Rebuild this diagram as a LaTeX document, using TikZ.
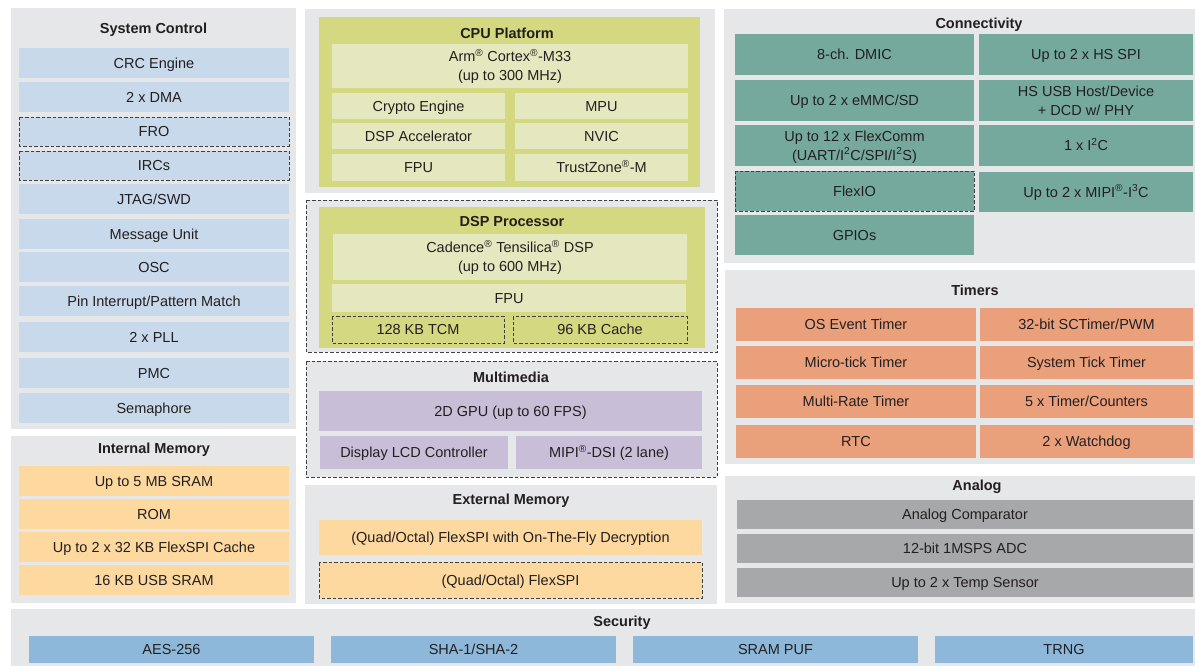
\documentclass[tikz,border=0pt]{standalone}
\usepackage{fontspec}
\setmainfont{Liberation Sans}
\usetikzlibrary{positioning}
\definecolor{panelgray}{RGB}{230,231,232}
\definecolor{sysblue}{RGB}{200,217,235}
\definecolor{memorange}{RGB}{253,217,160}
\definecolor{cpugreen}{RGB}{212,216,128}
\definecolor{cpulight}{RGB}{229,232,190}
\definecolor{mmpurple}{RGB}{201,190,216}
\definecolor{connteal}{RGB}{118,169,158}
\definecolor{timsalmon}{RGB}{235,160,124}
\definecolor{anagray}{RGB}{167,168,169}
\definecolor{secblue}{RGB}{141,184,218}
\definecolor{txtblack}{RGB}{35,31,32}

% box with a centred label: style, name, x1, y1, x2, y2, text
\newcommand{\cell}[7]{%
  \path[#1] (#3,#4) rectangle (#5,#6);
  \node[lbl] (#2) at ({(#3+#5)/2},{(#4+#6)/2}) {\strut#7};}
\newcommand{\reg}{\textsuperscript{®}}
\newcommand{\nl}{\\\strut}

\begin{document}
\begin{tikzpicture}[x=1pt,y=-1pt,
    panel/.style={fill=panelgray},
    dashpanel/.style={fill=panelgray,draw=black!75,dash pattern=on 3.5pt off 2pt,line width=0.8pt},
    dashbox/.style={draw=black!75,dash pattern=on 3.5pt off 2pt,line width=0.8pt},
    hdr/.style={font=\bfseries\fontsize{14.5}{19}\selectfont,text=txtblack,inner sep=0pt,yshift=-1.4pt,execute at begin node=\strut},
    lbl/.style={font=\fontsize{14.5}{19}\selectfont,text=txtblack,align=center,inner sep=0pt,yshift=-1.4pt}]
    \useasboundingbox (0,0) rectangle (1195,666);

    % System Control
    \fill[panel] (11,8) rectangle (296,429);
    \node[hdr] (tsys) at (153.5,28) {System Control};
    \cell{fill=sysblue}{crc}{19}{48}{289}{78}{CRC Engine}
    \cell{fill=sysblue}{dma}{19}{82}{289}{112}{2 x DMA}
    \cell{fill=sysblue,dashbox}{fro}{19}{117}{289}{146}{FRO}
    \cell{fill=sysblue,dashbox}{ircs}{19}{151}{289}{180}{IRCs}
    \cell{fill=sysblue}{jtag}{19}{184}{289}{214}{JTAG/SWD}
    \cell{fill=sysblue}{msgu}{19}{219}{289}{249}{Message Unit}
    \cell{fill=sysblue}{osc}{19}{252}{289}{282}{OSC}
    \cell{fill=sysblue}{pint}{19}{286}{289}{316}{Pin Interrupt/Pattern Match}
    \cell{fill=sysblue}{pll}{19}{322}{289}{352}{2 x PLL}
    \cell{fill=sysblue}{pmc}{19}{358}{289}{388}{PMC}
    \cell{fill=sysblue}{sema}{19}{393}{289}{423}{Semaphore}

    % Internal Memory
    \fill[panel] (11,436) rectangle (296,603);
    \node[hdr] (tint) at (154,448) {Internal Memory};
    \cell{fill=memorange}{sram}{19}{466}{289}{496}{Up to 5 MB SRAM}
    \cell{fill=memorange}{rom}{19}{499}{289}{529}{ROM}
    \cell{fill=memorange}{fcache}{19}{532}{289}{562}{Up to 2 x 32 KB FlexSPI Cache}
    \cell{fill=memorange}{usbram}{19}{565}{289}{595}{16 KB USB SRAM}

    % CPU Platform
    \fill[panel] (305,9) rectangle (715,193);
    \fill[cpugreen] (319,17) rectangle (700,187);
    \node[hdr] (tcpu) at (507,33) {CPU Platform};
    \cell{fill=cpulight}{m33}{332}{44}{688}{88}{Arm\reg{} Cortex\reg-M33\nl(up to 300 MHz)}
    \cell{fill=cpulight}{crypto}{332}{93}{505}{119}{Crypto Engine}
    \cell{fill=cpulight}{mpu}{515}{93}{688}{119}{MPU}
    \cell{fill=cpulight}{dspacc}{332}{123}{505}{149}{DSP Accelerator}
    \cell{fill=cpulight}{nvic}{515}{123}{688}{149}{NVIC}
    \cell{fill=cpulight}{fpu}{332}{154}{505}{181}{FPU}
    \cell{fill=cpulight}{tz}{515}{154}{688}{181}{TrustZone\reg-M}

    % DSP Processor
    \path[dashpanel] (306,200) rectangle (717,352);
    \fill[cpugreen] (319,207) rectangle (705,348);
    \node[hdr] (tdsp) at (512,221) {DSP Processor};
    \cell{fill=cpulight}{hifi}{333}{234}{687}{280}{Cadence\reg{} Tensilica\reg{} DSP\nl(up to 600 MHz)}
    \cell{fill=cpulight}{dspfpu}{332}{284}{686}{312}{FPU}
    \cell{dashbox}{tcm}{332}{316}{504}{343}{128 KB TCM}
    \cell{dashbox}{dcache}{513}{316}{687}{343}{96 KB Cache}

    % Multimedia
    \path[dashpanel] (306,361) rectangle (717,477);
    \node[hdr] (tmm) at (511,377) {Multimedia};
    \cell{fill=mmpurple}{gpu}{319}{391}{702}{431}{2D GPU (up to 60 FPS)}
    \cell{fill=mmpurple}{lcd}{320}{436}{508}{469}{Display LCD Controller}
    \cell{fill=mmpurple}{dsi}{516}{436}{702}{469}{MIPI\reg-DSI (2 lane)}

    % External Memory
    \fill[panel] (305,485) rectangle (717,604);
    \node[hdr] (text) at (511,499) {External Memory};
    \cell{fill=memorange}{otfad}{319}{520}{702}{555}{(Quad/Octal) FlexSPI with On-The-Fly Decryption}
    \cell{fill=memorange,dashbox}{fspi}{319}{562}{702}{598}{(Quad/Octal) FlexSPI}

    % Connectivity
    \fill[panel] (724,9) rectangle (1195,263);
    \node[hdr] (tconn) at (979,23) {Connectivity};
    \cell{fill=connteal}{dmic}{735}{34}{974}{75}{8-ch. DMIC}
    \cell{fill=connteal}{hsspi}{979}{34}{1193}{75}{Up to 2 x HS SPI}
    \cell{fill=connteal}{emmc}{735}{80}{974}{121}{Up to 2 x eMMC/SD}
    \cell{fill=connteal}{usb}{979}{80}{1193}{121}{HS USB Host/Device\nl+ DCD w/ PHY}
    \cell{fill=connteal}{fcomm}{735}{125}{974}{166}{Up to 12 x FlexComm\nl(UART/I\textsuperscript{2}C/SPI/I\textsuperscript{2}S)}
    \cell{fill=connteal}{itwoc}{979}{125}{1193}{166}{1 x I\textsuperscript{2}C}
    \cell{fill=connteal,dashbox}{flexio}{735}{171}{974}{211}{FlexIO}
    \cell{fill=connteal}{ithreec}{979}{172}{1193}{212}{Up to 2 x MIPI\reg-I\textsuperscript{3}C}
    \cell{fill=connteal}{gpio}{735}{215}{974}{255}{GPIOs}

    % Timers
    \fill[panel] (725,270) rectangle (1195,464);
    \node[hdr] (ttim) at (975,290) {Timers};
    \cell{fill=timsalmon}{ostim}{736}{308}{976}{341}{OS Event Timer}
    \cell{fill=timsalmon}{sct}{980}{308}{1193}{341}{32-bit SCTimer/PWM}
    \cell{fill=timsalmon}{utick}{736}{346}{976}{379}{Micro-tick Timer}
    \cell{fill=timsalmon}{systick}{980}{346}{1193}{379}{System Tick Timer}
    \cell{fill=timsalmon}{mrt}{736}{385}{976}{418}{Multi-Rate Timer}
    \cell{fill=timsalmon}{ctimer}{980}{385}{1193}{418}{5 x Timer/Counters}
    \cell{fill=timsalmon}{rtc}{736}{425}{976}{458}{RTC}
    \cell{fill=timsalmon}{wdog}{980}{425}{1193}{458}{2 x Watchdog}

    % Analog
    \fill[panel] (725,476) rectangle (1195,603);
    \node[hdr] (tana) at (977,485) {Analog};
    \cell{fill=anagray}{acmp}{737}{500}{1193}{529}{Analog Comparator}
    \cell{fill=anagray}{adc}{737}{534}{1193}{563}{12-bit 1MSPS ADC}
    \cell{fill=anagray}{temp}{737}{568}{1193}{597}{Up to 2 x Temp Sensor}

    % Security
    \fill[panel] (11,609) rectangle (1195,666);
    \node[hdr] (tsec) at (622,621) {Security};
    \cell{fill=secblue}{aes}{29}{636}{314}{663}{AES-256}
    \cell{fill=secblue}{sha}{331}{636}{616}{663}{SHA-1/SHA-2}
    \cell{fill=secblue}{puf}{633}{636}{918}{663}{SRAM PUF}
    \cell{fill=secblue}{trng}{935}{636}{1193}{663}{TRNG}
\end{tikzpicture}
\end{document}
